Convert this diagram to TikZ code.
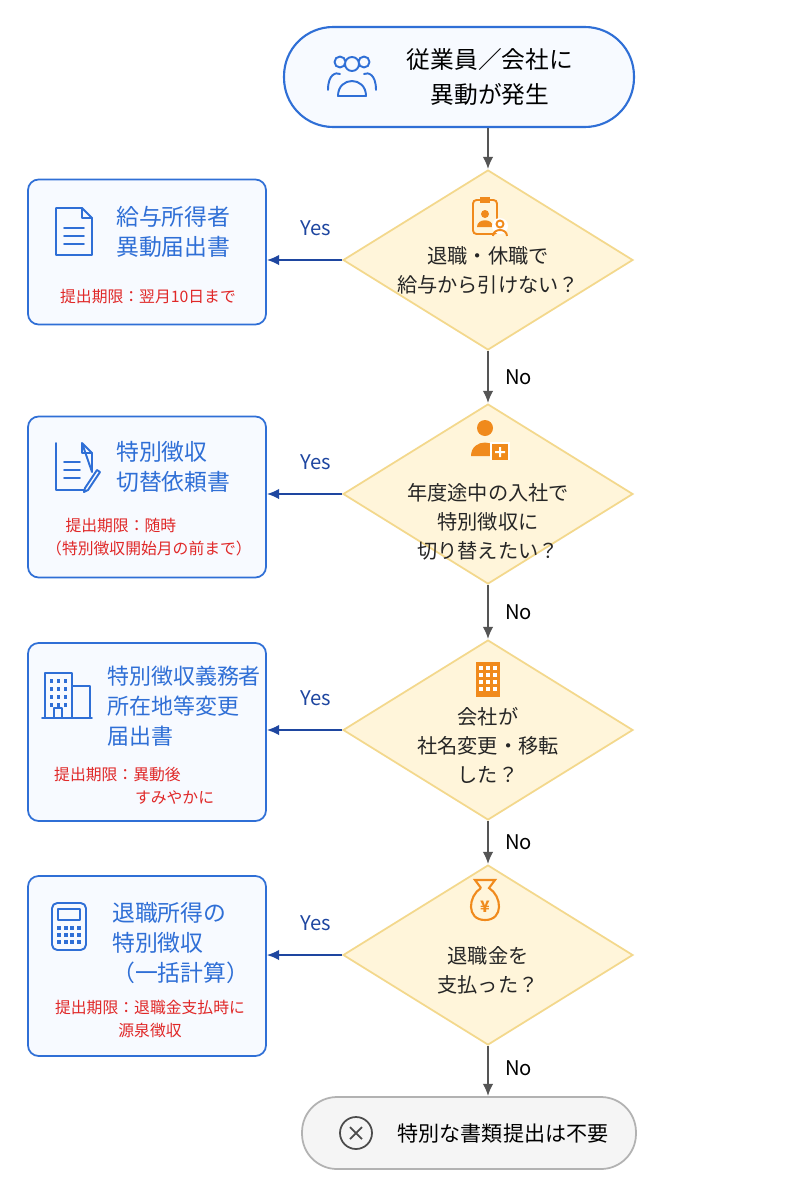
\documentclass[tikz,border=0pt]{standalone}
\usepackage{fontspec}
\setmainfont{Noto Sans CJK JP}
\usetikzlibrary{shapes.geometric,arrows.meta,positioning}
\definecolor{mainblue}{HTML}{2F6FD6}
\definecolor{darkblue}{HTML}{1E46A0}
\definecolor{boxfill}{HTML}{F7FAFF}
\definecolor{dfill}{HTML}{FFF5DA}
\definecolor{dline}{HTML}{F3D88C}
\definecolor{iconor}{HTML}{F08A1C}
\definecolor{redtxt}{HTML}{E02828}
\definecolor{arrgrey}{HTML}{555555}
\tikzset{
  docbox/.style={draw=mainblue, line width=1pt, fill=boxfill, rounded corners=6pt,
    minimum width=4.76cm},
  decision/.style={diamond, draw=dline, line width=1pt, fill=dfill, inner sep=0pt,
    minimum width=5.8cm, minimum height=3.6cm},
  title/.style={text=mainblue, font=\fontsize{13}{17}\selectfont, align=left},
  deadline/.style={text=redtxt, font=\fontsize{9}{13}\selectfont, align=left},
  qtext/.style={font=\fontsize{11.5}{16.5}\selectfont, align=center, text=black!85},
  ans/.style={font=\fontsize{11.5}{13}\selectfont},
  flow/.style={draw=arrgrey, line width=1pt, -{Latex[length=7pt,width=6pt]}},
  yesflow/.style={draw=darkblue, line width=1pt, -{Latex[length=7pt,width=6pt]}},
  iconb/.style={draw=mainblue, line width=1.1pt, line join=round, line cap=round},
}
\begin{document}
\begin{tikzpicture}[x=0.02cm, y=-0.02cm]
\useasboundingbox (0,0) rectangle (800,1200);
\fill[white] (0,0) rectangle (800,1200);

% start and end
\node[draw=mainblue, line width=1.2pt, fill=boxfill, rounded corners=0.98cm,
  minimum width=7cm, minimum height=2cm] (start) at (459,77) {};
\node[font=\fontsize{13.5}{20}\selectfont, align=center] (starttxt) at (490,77) {従業員／会社に\\異動が発生};
\draw[iconb] (352,64) circle (7) (340,62) circle (5.5) (364,62) circle (5.5);
\draw[iconb] (338,96) .. controls (338,76) and (366,76) .. (366,96) -- cycle;
\draw[iconb] (328,90) .. controls (328,74) and (336,72) .. (340,74);
\draw[iconb] (376,90) .. controls (376,74) and (368,72) .. (364,74);

\node[draw=black!30, line width=1pt, fill=black!4, rounded corners=0.7cm,
  minimum width=6.68cm, minimum height=1.44cm] (stop) at (469,1133) {};
\node[font=\fontsize{12}{14}\selectfont] (stoptxt) at (503,1133) {特別な書類提出は不要};
\draw[black!70, line width=1pt] (356,1133) circle (16);
\draw[black!70, line width=1pt] (350,1127) -- (362,1139) (362,1127) -- (350,1139);

% decisions
\node[decision] (d1) at (488,260) {};
\node[decision] (d2) at (488,494) {};
\node[decision] (d3) at (488,730) {};
\node[decision] (d4) at (488,955) {};
\node[qtext] at (488,270) {退職・休職で\\給与から引けない？};
\node[qtext] at (488,522) {年度途中の入社で\\特別徴収に\\切り替えたい？};
\node[qtext] at (488,745) {会社が\\社名変更・移転\\した？};
\node[qtext] at (488,970) {退職金を\\支払った？};

% decision icons
\draw[iconor, line width=1.1pt, rounded corners=2pt] (473,200) rectangle (497,234);
\fill[iconor] (480,197) rectangle (490,203);
\fill[iconor] (485,214) circle (4) (477,227) .. controls (477,218) and (493,218) .. (493,227) -- cycle;
\fill[white] (500,226) circle (8); \draw[iconor, line width=1.1pt] (500,224) circle (3.5) (493,236) .. controls (493,228) and (507,228) .. (507,236);
\fill[iconor] (485,428) circle (8) (471,456) .. controls (471,438) and (499,438) .. (499,456) -- cycle;
\fill[white] (490,442) rectangle (510,460); \fill[iconor] (492,444) rectangle (508,460);
\fill[white] (499,447) rectangle (501,457) (495,451) rectangle (505,453);
\fill[iconor] (476,662) rectangle (500,697);
\foreach \i in {0,1,2,3} \foreach \j in {0,1,2} \fill[white] (479+\j*7,666+\i*7) rectangle (483+\j*7,670+\i*7);
\draw[iconor, line width=1.2pt] (481,888) -- (475,880) -- (495,880) -- (489,888)
  .. controls (502,896) and (504,920) .. (485,920) .. controls (466,920) and (468,896) .. (481,888);
\node[text=iconor, font=\bfseries\fontsize{9}{9}\selectfont] at (485,907) {¥};

% document boxes
\node[docbox, minimum height=2.9cm]  (b1) at (147,252) {};
\node[docbox, minimum height=3.22cm] (b2) at (147,497) {};
\node[docbox, minimum height=3.56cm] (b3) at (147,732) {};
\node[docbox, minimum height=3.6cm]  (b4) at (147,966) {};
\node[title, anchor=west] at (110,232) {給与所得者\\異動届出書};
\node[deadline] at (148,297) {提出期限：翌月10日まで};
\node[title, anchor=west] at (110,467) {特別徴収\\切替依頼書};
\node[deadline, anchor=north west] at (40,512) {\hspace*{11pt}提出期限：随時\\（特別徴収開始月の前まで）};
\node[title, anchor=west, font=\fontsize{12.5}{17}\selectfont] at (101,706) {特別徴収義務者\\所在地等変更\\届出書};
\node[deadline, anchor=north west] at (48,761) {提出期限：異動後\\\hspace*{46pt}すみやかに};
\node[title, anchor=west] at (106,943) {退職所得の\\特別徴収\\（一括計算）};
\node[deadline, anchor=north, align=center] at (150,994) {提出期限：退職金支払時に\\源泉徴収};

% box icons
\draw[iconb] (56,208) -- (56,255) -- (92,255) -- (92,218) -- (82,208) -- cycle (82,208) -- (82,218) -- (92,218);
\foreach \yy in {228,236,244} \draw[iconb] (64,\yy) -- (84,\yy);
\draw[iconb] (56,443) -- (56,490) -- (84,490) (92,472) -- (92,453) -- (82,443) -- cycle (82,443) -- (82,453) -- (92,453);
\foreach \yy in {462,470,478} \draw[iconb] (64,\yy) -- (80,\yy);
\draw[iconb] (100,472) -- (88,490) -- (84,492) -- (85,488) -- (97,470) -- cycle;
\draw[iconb] (45,718) -- (45,673) -- (72,673) -- (72,718) (72,686) -- (90,686) -- (90,718) (42,718) -- (92,718);
\foreach \i in {0,1,2,3} \foreach \j in {0,1,2} \fill[mainblue] (50+\j*7,679+\i*8) rectangle (53+\j*7,683+\i*8);
\draw[iconb] (54,718) -- (54,708) -- (62,708) -- (62,718);
\draw[iconb, rounded corners=3pt] (52,903) rectangle (86,950);
\draw[iconb] (58,909) rectangle (80,920);
\foreach \i in {0,1,2} \foreach \j in {0,1,2,3} \fill[mainblue] (57+\j*6.5,926+\i*7) rectangle (61+\j*6.5,930+\i*7);

% connectors
\draw[flow] (d1.north |- start.south) -- (d1);
\draw[flow] (d1) -- node[ans, right=6pt] {No} (d2);
\draw[flow] (d2) -- node[ans, right=6pt] {No} (d3);
\draw[flow] (d3) -- node[ans, right=6pt] {No} (d4);
\draw[flow] (d4) -- node[ans, right=6pt, pos=0.45] {No} (d4.south |- stop.north);
\foreach \d/\b in {d1/b1,d2/b2,d3/b3,d4/b4}
  \draw[yesflow] (\d.west) -- node[ans, text=darkblue, above=10pt, pos=0.35] {Yes} (\d.west -| \b.east);
\end{tikzpicture}
\end{document}
